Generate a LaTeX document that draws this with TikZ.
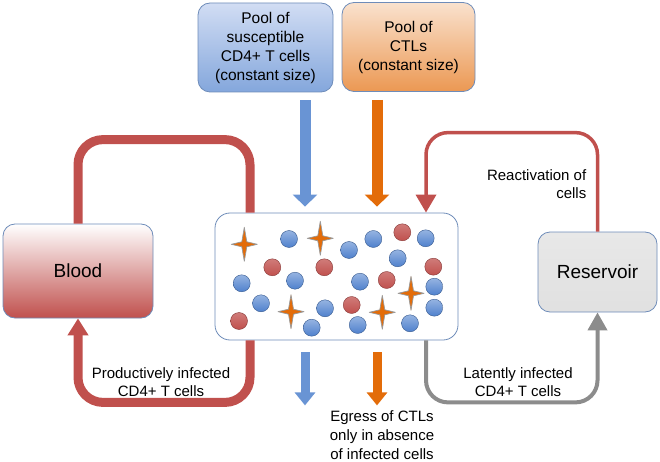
\documentclass[tikz,border=0pt]{standalone}
\usepackage{fontspec}
\setmainfont{Liberation Sans}
\usetikzlibrary{arrows.meta}
\definecolor{bloodred}{RGB}{192,80,77}
\definecolor{cellblue}{RGB}{79,129,205}
\definecolor{ctlorange}{RGB}{227,108,9}
\definecolor{boxline}{RGB}{110,140,185}
\definecolor{resgrey}{RGB}{140,140,140}
\begin{document}
\begin{tikzpicture}[x=1pt,y=-1pt]
\tikzset{every node/.style={draw=boxline,line width=0.8pt,rounded corners=12pt,align=center,
                            font=\fontsize{15.5}{19}\selectfont}}
\tikzset{label/.style={draw=none,font=\fontsize{15}{18.7}\selectfont}}
\tikzset{bluecell/.style={top color=cellblue!60!white,bottom color=cellblue,draw=cellblue!70!black,line width=0.4pt}}
\tikzset{redcell/.style={top color=bloodred!75!white,bottom color=bloodred,draw=bloodred!70!black,line width=0.4pt}}
\tikzset{ctlstar/.style={fill=ctlorange,draw=gray!80,line width=0.7pt,line join=round}}
\tikzset{bloodline/.style={draw=bloodred,line width=9pt,rounded corners=25pt}}
%\tikzset{bloodline/.style={draw=bloodred,line width=6pt}}
\useasboundingbox (0,0) rectangle (660,462);

% boxes
\node[top color=blue!8!cellblue!25!white,bottom color=cellblue!70!white,
      minimum width=135pt,minimum height=89pt] (susceptible) at (265.5,47.5)
      {Pool of\\susceptible\\CD4+ T cells\\(constant size)};
\node[top color=ctlorange!20!white,bottom color=ctlorange!70!white,
      minimum width=133pt,minimum height=89pt] (ctlpool) at (408.5,47)
      {Pool of\\CTLs\\(constant size)};
\node[fill=white,minimum width=243pt,minimum height=127pt,rounded corners=15pt] (tissue) at (336.5,276.5) {};
\node[top color=white,bottom color=bloodred,minimum width=150pt,minimum height=94pt,
      font=\fontsize{19}{22}\selectfont] (blood) at (78,271) {Blood};
\node[top color=gray!18,bottom color=gray!24,minimum width=119pt,minimum height=80pt,
      font=\fontsize{19}{22}\selectfont] (reservoir) at (597.5,272) {Reservoir};

\coordinate (bluex) at (305,0);
\coordinate (orangex) at (377,0);
\coordinate (leftx) at (250,0);
\coordinate (rightx) at (426,0);

% cells
\foreach \x/\y in {289/239, 241.7/283.3, 295/280.7, 261/303.3, 325/308.3, 311.7/327.7,
                   349/250, 373.3/239, 425.7/238.3, 397.7/258.3, 360/281.7, 434.3/286.7,
                   434.3/307.7, 357.7/325, 410/323.3}
    \path[bluecell] (\x,\y) circle (8.5);
\foreach \x/\y in {272.3/267.3, 324.3/267.3, 239/321, 402.3/232.3, 433.3/266.7,
                   386.7/280, 351.7/305}
    \path[redcell] (\x,\y) circle (8.5);
\foreach \x/\y in {244.3/244.3, 320.3/238.3, 291/311.7, 382.3/312.3, 411/293.3}
    \path[ctlstar,shift={(\x,\y)}] (0,-17) -- (2.5,-2.5) -- (13,0) -- (2.5,2.5) -- (0,17)
        -- (-2.5,2.5) -- (-13,0) -- (-2.5,-2.5) -- cycle;

% inflow and outflow
\draw[cellblue!85!white,line width=11pt,-{Triangle[width=24pt,length=12pt]}]
    ([yshift=-8pt]susceptible.south -| bluex) -- ([yshift=6pt]tissue.north -| bluex);
\draw[ctlorange,line width=11pt,-{Triangle[width=24pt,length=12pt]}]
    ([yshift=-8pt]ctlpool.south -| orangex) -- ([yshift=6pt]tissue.north -| orangex);
\draw[cellblue!85!white,line width=9pt,-{Triangle[width=20pt,length=13pt]}]
    ([yshift=-12pt]tissue.south -| bluex) -- ++(0,53);
\draw[ctlorange,line width=9pt,-{Triangle[width=20pt,length=13pt]}]
    ([yshift=-12pt]tissue.south -| orangex) -- ++(0,53);

% loops
\draw[bloodline] (blood.north) -- ++(0,-84) -| (tissue.north -| leftx);
\draw[bloodline,-{Triangle[width=20pt,length=17pt]}]
    (tissue.south -| leftx) -- ++(0,62) -| (blood.south);
\draw[resgrey,line width=4pt,rounded corners=22pt,-{Triangle[width=19pt,length=18pt]}]
    (tissue.south -| rightx) -- ++(0,62) -| (reservoir.south);
\draw[bloodred,line width=3.5pt,rounded corners=22pt,-{Triangle[width=20pt,length=18pt]}]
    (reservoir.north) -- ++(0,-99) -| (tissue.north -| rightx);

% labels
\node[label] (productive) at (161,382) {Productively infected\\CD4+ T cells};
\node[label] (latent) at (518,382) {Latently infected\\CD4+ T cells};
\node[label,align=right,anchor=east] (reactivation) at (590,184) {Reactivation of\\cells};
\node[label] (egress) at (382,435) {Egress of CTLs\\only in absence\\of infected cells};
\end{tikzpicture}
\end{document}
